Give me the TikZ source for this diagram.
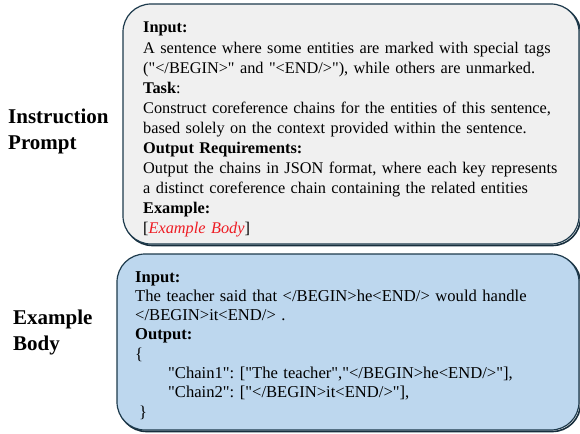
\documentclass[tikz,border=0pt]{standalone}
\usepackage{fontspec}
\setmainfont{Liberation Serif}[
  Ligatures=TeXOff,
  BoldFont={Liberation Serif Bold},
  ItalicFont={Liberation Serif Italic},
  BoldItalicFont={Liberation Serif Bold Italic}]
\frenchspacing
\definecolor{edge}{HTML}{1D3A4C}
\definecolor{greyfill}{HTML}{F0F0F0}
\definecolor{bluefill}{HTML}{BDD7EE}
\definecolor{tagred}{HTML}{EE1C24}
\tikzset{
  panel/.style={draw=edge, line width=1.2pt, rounded corners=28pt},
  panelshadow/.style={draw=edge!80!black, line width=1.6pt, rounded corners=28pt},
  body/.style={anchor=base west, inner sep=0pt, align=left, text width=440pt,
    font=\fontsize{16.3}{20.1}\selectfont},
  side/.style={anchor=base west, inner sep=0pt, align=left,
    font=\fontsize{21}{26}\selectfont\bfseries}
}
\begin{document}
\begin{tikzpicture}[x=1pt,y=-1pt]
\useasboundingbox (0,0) rectangle (580,433);
% instruction panel
\draw[panelshadow] (124.5,5.5) rectangle (580.5,245.5);
\draw[panel, fill=greyfill] (123,4) rectangle (579,244);
% example panel
\draw[panelshadow] (118.5,255.5) rectangle (580.5,431.5);
\draw[panel, fill=bluefill] (117,254) rectangle (579,430);

% side captions (base anchor sits on the last line)
\node[side] (lblprompt) at (8,149) {Instruction\\Prompt};
\node[side] (lblbody) at (13,350) {Example\\Body};

\node[body] (prompt) at (143,33) {%
\textbf{Input:}\\
A sentence where some entities are marked with special tags\\
("</BEGIN>" and "<END/>"), while others are unmarked.\\
\textbf{Task}:\\
Construct coreference chains for the entities of this sentence,\\
based solely on the context provided within the sentence.\\
\textbf{Output Requirements:}\\
Output the chains in JSON format, where each key represents\\
a distinct coreference chain containing the related entities\\
\textbf{Example:}\\
{[}\textcolor{tagred}{\itshape Example Body}{]}};

\node[body, font=\fontsize{16.6}{19.3}\selectfont] (example) at (135,282) {%
\textbf{Input:}\\
The teacher said that </BEGIN>he<END/> would handle\\
</BEGIN>it<END/> .\\
\textbf{Output:}\\
\{\\
\hspace*{33pt}"Chain1": ["The teacher","</BEGIN>he<END/>"],\\
\hspace*{33pt}"Chain2": ["</BEGIN>it<END/>"],\\
\hspace*{4pt}\}};
\end{tikzpicture}
\end{document}
